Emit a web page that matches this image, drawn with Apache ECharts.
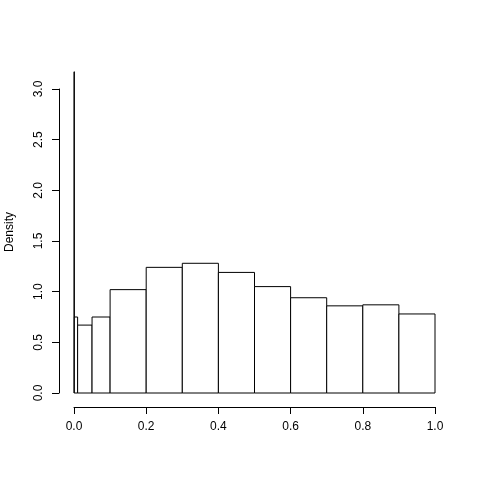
<!DOCTYPE html>
<html lang="en">
<head>
    <meta charset="UTF-8">
    <title>Histogram</title>
    <script src="https://cdn.jsdelivr.net/npm/echarts@6/dist/echarts.min.js"></script>
</head>
<body style="margin:0;background:#fff;">
    <div id="main" style="width:480px;height:480px;"></div>
    <script>
        // bin edges and density values
        var binStart = [0, 0.001, 0.01, 0.05, 0.1, 0.2, 0.3, 0.4, 0.5, 0.6, 0.7, 0.8, 0.9];
        var binEnd   = [0.001, 0.01, 0.05, 0.1, 0.2, 0.3, 0.4, 0.5, 0.6, 0.7, 0.8, 0.9, 1.0];
        var density  = [3.17, 0.75, 0.67, 0.75, 1.02, 1.24, 1.28, 1.19, 1.05, 0.94, 0.86, 0.87, 0.78];
        var yTicks = ['0.0', '0.5', '1.0', '1.5', '2.0', '2.5', '3.0'];

        var data = [];
        for (var i = 0; i < density.length; i++) {
            data.push([binStart[i], binEnd[i], density[i]]);
        }

        var font = 'Liberation Sans, Arial, sans-serif';
        var myChart = echarts.init(document.getElementById('main'));

        var option = {
            backgroundColor: '#fff',
            animation: false,
            grid: { left: 74, right: 45, top: 89, bottom: 87 },
            xAxis: {
                type: 'value',
                min: 0, max: 1, interval: 0.2,
                offset: 14,
                splitLine: { show: false },
                axisLine: { show: true, onZero: false, lineStyle: { color: '#000', width: 1 } },
                axisTick: { show: true, length: 7, lineStyle: { color: '#000' } },
                axisLabel: {
                    color: '#000', fontSize: 12, fontFamily: font, margin: 14,
                    formatter: function (v) { return v.toFixed(1); }
                }
            },
            yAxis: {
                type: 'value',
                min: 0, max: 3, interval: 0.5,
                offset: 15,
                splitLine: { show: false },
                axisLine: { show: true, onZero: false, lineStyle: { color: '#000', width: 1 } },
                axisTick: { show: true, length: 7, lineStyle: { color: '#000' } },
                axisLabel: {
                    color: '#000', fontSize: 12, fontFamily: font, margin: 14,
                    rotate: 90,
                    formatter: function (v) { return yTicks[Math.round(v / 0.5)]; }
                }
            },
            graphic: [{
                type: 'text',
                x: 4, y: 232,
                rotation: Math.PI / 2,
                style: {
                    text: 'Density', fill: '#000', fontSize: 12, fontFamily: font,
                    align: 'center', verticalAlign: 'top'
                }
            }],
            series: [{
                type: 'custom',
                clip: false,
                data: data,
                renderItem: function (params, api) {
                    var p0 = api.coord([api.value(0), api.value(2)]);
                    var p1 = api.coord([api.value(1), 0]);
                    return {
                        type: 'rect',
                        shape: { x: p0[0], y: p0[1], width: p1[0] - p0[0], height: p1[1] - p0[1] },
                        style: { fill: '#fff', stroke: '#000', lineWidth: 1 }
                    };
                }
            }]
        };
        myChart.setOption(option);
    </script>
</body>
</html>
